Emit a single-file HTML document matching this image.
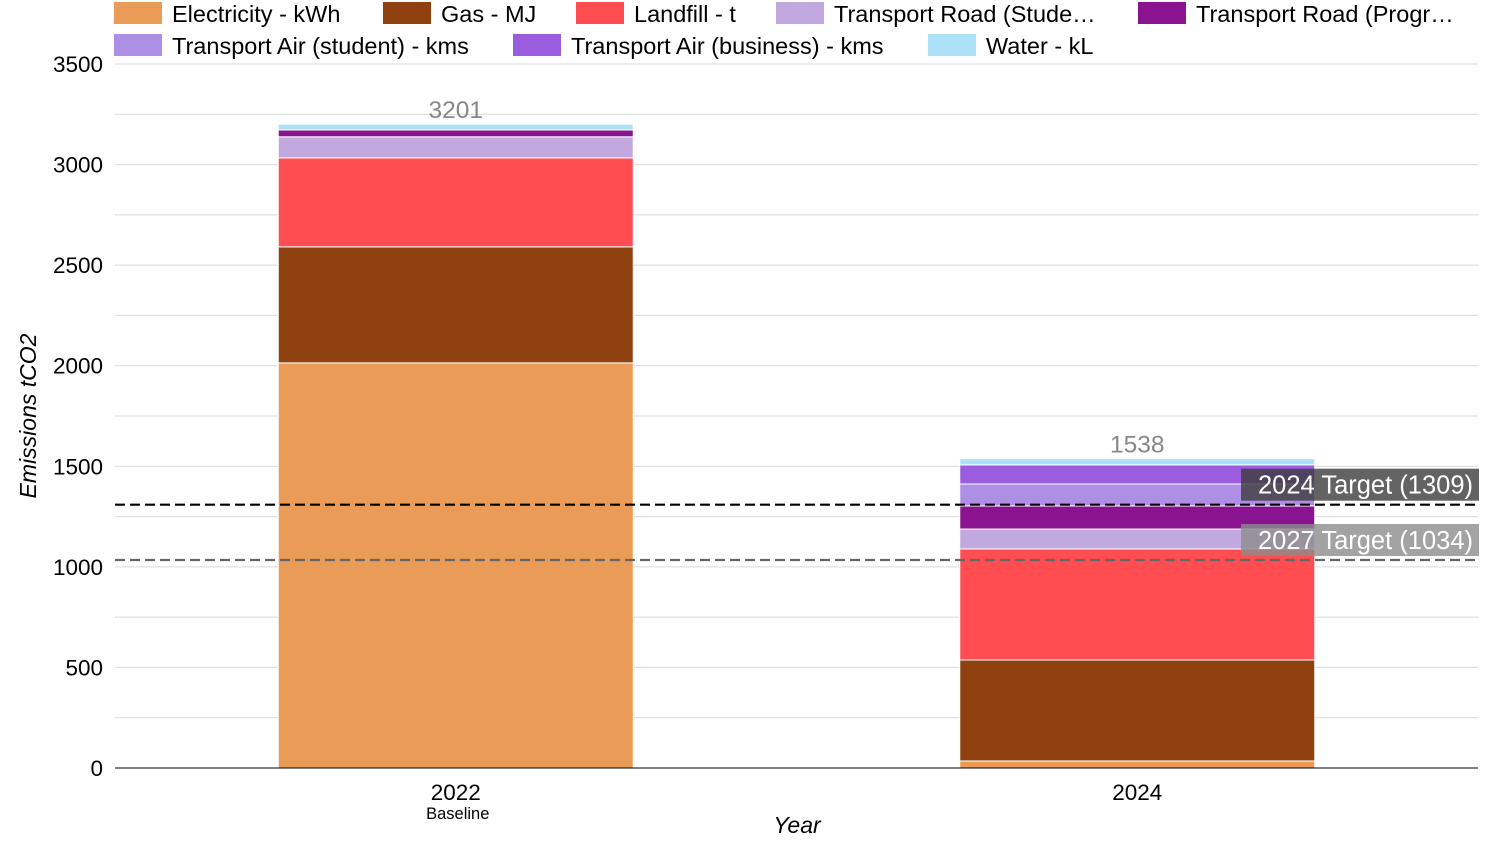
<!DOCTYPE html>
<html><head><meta charset="utf-8"><style>
body{margin:0;background:#fff;width:1500px;height:850px;overflow:hidden;font-family:"Liberation Sans",Arial,sans-serif}
svg text{font-family:"Liberation Sans",Arial,sans-serif}
</style></head><body>
<svg id="chart" width="1500" height="850"></svg>
<script>
const categories = ["2022", "2024"];
const subLabels = ["Baseline", ""];
const seriesNames = ["Electricity - kWh","Gas - MJ","Landfill - t","Transport Road (Stude\u2026","Transport Road (Progr\u2026","Transport Air (student) - kms","Transport Air (business) - kms","Water - kL"];
const electricity = [2014, 35];
const gas = [577, 502];
const landfill = [442, 552];
const roadStudent = [105, 99];
const roadProg = [34, 115];
const airStudent = [0, 109];
const airBusiness = [0, 95];
const water = [29, 31];
const totals = [3201, 1538];
const yTicks = [0,500,1000,1500,2000,2500,3000,3500];
const targetValues = [1309, 1034];
const targetLabels = ["2024 Target (1309)", "2027 Target (1034)"];

const series = [electricity,gas,landfill,roadStudent,roadProg,airStudent,airBusiness,water];
const colors = ["#ea9b57","#8f4210","#ff4d51","#c1a8de","#8a1490","#ad8fe6","#9b5ce0","#ade1f8"];
const NS = "http://www.w3.org/2000/svg";
const svg = document.getElementById("chart");
const X0 = 115, X1 = 1478, Y0 = 768, Y1 = 64, YMAX = 3500;
const y = v => Y0 - v / YMAX * (Y0 - Y1);
const bandW = (X1 - X0) / categories.length;
const barW = 355;
const xc = i => X0 + bandW * (i + 0.5);
function el(tag, attrs, text){const e=document.createElementNS(NS,tag);for(const k in attrs)e.setAttribute(k,attrs[k]);if(text!==undefined)e.textContent=text;svg.appendChild(e);return e;}

for (let v = 0; v <= YMAX; v += 250) {
  const g = el("line",{x1:X0,x2:X1,y1:y(v),y2:y(v),stroke:"#d9d9d9","stroke-width":1});
  
  
}
yTicks.forEach(t => {
  const tx = el("text",{x:103,y:y(t)+8,"text-anchor":"end","font-size":22.5,fill:"#000"},String(t));
  
  
});
categories.forEach((c, i) => {
  let base = 0;
  series.forEach((s, k) => {
    const v = s[i];
    if (v > 0) {
      const r = el("rect",{x:xc(i)-barW/2,y:y(base+v),width:barW,height:y(base)-y(base+v),fill:colors[k],stroke:"#fff","stroke-width":1});
      
      
    }
    base += v;
  });
  const tl = el("text",{x:xc(i),y:y(totals[i])-6,"text-anchor":"middle","font-size":24.5,fill:"#888"},String(totals[i]));
  
  
  const xl = el("text",{x:xc(i),y:800,"text-anchor":"middle","font-size":22.5,fill:"#000"},c);
  
  
  if (subLabels[i]) {
    const sl = el("text",{x:xc(i)+2,y:819,"text-anchor":"middle","font-size":16.5,fill:"#000"},subLabels[i]);
    
    
  }
});
const ax = el("line",{x1:X0,x2:X1,y1:Y0,y2:Y0,stroke:"#000","stroke-width":1});


const tColors = ["#000","#666"], tBg = ["rgba(60,60,60,0.8)","rgba(140,140,140,0.8)"];
targetValues.forEach((t, i) => {
  const ln = el("line",{x1:X0,x2:X1,y1:y(t),y2:y(t),stroke:tColors[i],"stroke-width":2.2,"stroke-dasharray":"10,5"});
  
  
  const bx = el("rect",{x:1241,y:y(t)-36,width:238,height:32,fill:tBg[i]});
  
  
  const tx = el("text",{x:1473,y:y(t)-11,"text-anchor":"end","font-size":25.5,fill:"#fff"},targetLabels[i]);
  
  
});
const yt = el("text",{x:0,y:0,"text-anchor":"middle","font-size":23,"font-style":"italic",fill:"#000",transform:"translate(36,416) rotate(-90)"},"Emissions tCO2");


const xt = el("text",{x:797,y:833,"text-anchor":"middle","font-size":23,"font-style":"italic",fill:"#000"},"Year");


const legPos = [[114,2],[383,2],[576,2],[776,2],[1138,2],[114,34],[513,34],[928,34]];
seriesNames.forEach((n, k) => {
  const [lx, ly] = legPos[k];
  const sw = el("rect",{x:lx,y:ly,width:48,height:22,fill:colors[k]});
  
  
  const lt = el("text",{x:lx+58,y:ly+20,"font-size":23.5,fill:"#000"},n);
  
  
});
</script>
</body></html>
